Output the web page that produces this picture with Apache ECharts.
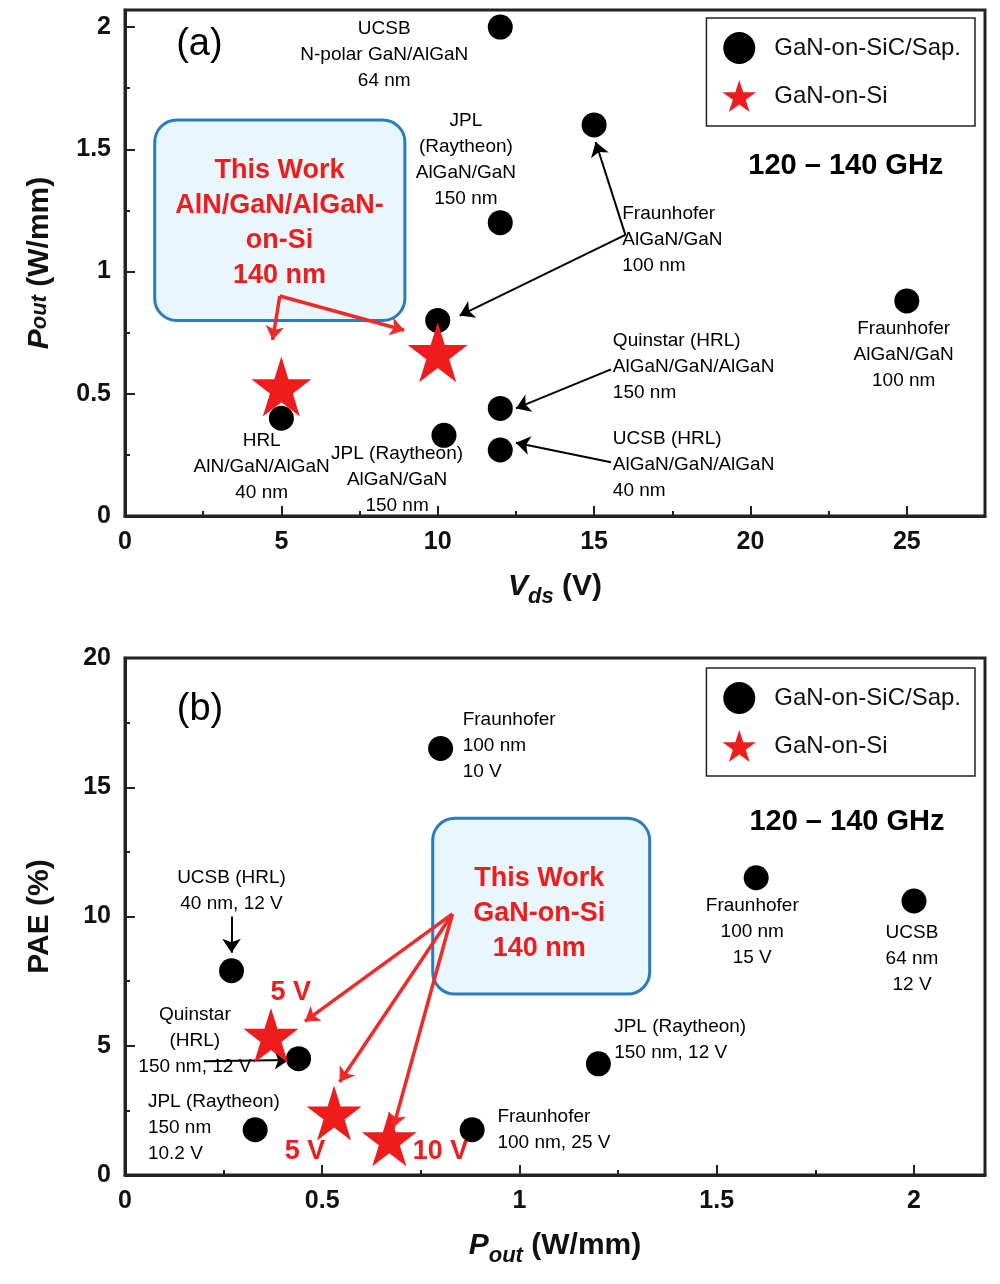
<!DOCTYPE html>
<html>
<head>
<meta charset="utf-8">
<script src="https://cdn.jsdelivr.net/npm/echarts@6/dist/echarts.min.js"></script>
<style>body{margin:0;background:#fff}</style>
</head>
<body>
<div id="main" style="width:1000px;height:1284px"></div>
<script>
var FONT = 'Liberation Sans';
var STAR = 'path://M50,0 L61.8,36.2 L100,36.2 L69.1,58.8 L80.9,95.1 L50,72.6 L19.1,95.1 L30.9,58.8 L0,36.2 L38.2,36.2 Z';

// (a) Pout vs Vds
var aSicSap = [[5,0.4],[10,0.8],[10.2,0.33],[12,0.27],[12,0.44],[12,1.2],[12,2.0],[15,1.6],[25,0.88]];
var aSi = [[5,0.53],[10,0.67]];
// (b) PAE vs Pout
var bSicSap = [[0.27,7.9],[0.44,4.5],[0.33,1.75],[0.8,16.5],[0.88,1.75],[1.2,4.3],[1.6,11.5],[2.0,10.6]];
var bSi = [[0.37,5.4],[0.53,2.4],[0.67,1.4]];

// annotation text: [x, y, text, align, style]
var aNotes = [
  [8.29,1.885,'UCSB\nN-polar GaN/AlGaN\n64 nm','center','n'],
  [10.9,1.456,'JPL\n(Raytheon)\nAlGaN/GaN\n150 nm','center','n'],
  [15.9,1.13,'Fraunhofer\nAlGaN/GaN\n100 nm','left','n'],
  [15.6,0.61,'Quinstar (HRL)\nAlGaN/GaN/AlGaN\n150 nm','left','n'],
  [15.6,0.21,'UCSB (HRL)\nAlGaN/GaN/AlGaN\n40 nm','left','n'],
  [24.9,0.66,'Fraunhofer\nAlGaN/GaN\n100 nm','center','n'],
  [4.37,0.2,'HRL\nAlN/GaN/AlGaN\n40 nm','center','n'],
  [8.7,0.147,'JPL (Raytheon)\nAlGaN/GaN\n150 nm','center','n'],
  [4.94,1.2,'This Work\nAlN/GaN/AlGaN-\non-Si\n140 nm','center','r'],
  [2.38,1.93,'(a)','center','big'],
  [23.05,1.43,'120 – 140 GHz','center','b']
];
var bNotes = [
  [0.856,16.6,'Fraunhofer\n100 nm\n10 V','left','n'],
  [0.19,18.0,'(b)','center','big'],
  [1.83,13.67,'120 – 140 GHz','center','b'],
  [0.27,11.0,'UCSB (HRL)\n40 nm, 12 V','center','n'],
  [1.59,9.4,'Fraunhofer\n100 nm\n15 V','center','n'],
  [1.995,8.35,'UCSB\n64 nm\n12 V','center','n'],
  [1.05,10.1,'This Work\nGaN-on-Si\n140 nm','center','r'],
  [0.177,5.2,'Quinstar\n(HRL)\n150 nm, 12 V','center','n'],
  [1.24,5.24,'JPL (Raytheon)\n150 nm, 12 V','left','n'],
  [0.058,1.83,'JPL (Raytheon)\n150 nm\n10.2 V','left','n'],
  [0.944,1.75,'Fraunhofer\n100 nm, 25 V','left','n'],
  [0.42,7.07,'5 V','center','r'],
  [0.456,0.9,'5 V','center','r'],
  [0.8,0.9,'10 V','center','r']
];
// arrows: [x1,y1,x2,y2,color]
var aArrows = [
  [16,1.15,15.05,1.53,'#000'],[16,1.15,10.7,0.82,'#000'],
  [15.54,0.6,12.5,0.44,'#000'],[15.54,0.22,12.5,0.3,'#000'],
  [4.95,0.9,4.72,0.72,'#ee2a2a'],[4.95,0.9,8.93,0.76,'#ee2a2a']
];
var bArrows = [
  [0.27,10.0,0.27,8.6,'#000'],[0.2,4.4,0.415,4.45,'#000'],
  [0.83,10.1,0.456,5.94,'#ee2a2a'],[0.83,10.1,0.544,3.6,'#ee2a2a'],[0.83,10.1,0.68,1.83,'#ee2a2a']
];

function noteData(notes) {
  return notes.map(function (n) {
    var st = {fontFamily: FONT, fontSize: 19, color: '#000', lineHeight: 26, align: n[3]};
    if (n[4] === 'r') { st.color = '#ee1c1c'; st.fontWeight = 'bold'; st.fontSize = 27; st.lineHeight = 35; }
    if (n[4] === 'b') { st.fontWeight = 'bold'; st.fontSize = 29; }
    if (n[4] === 'big') { st.fontSize = 38; }
    st.show = true; st.position = 'inside'; st.formatter = n[2];
    return {value: [n[0], n[1]], label: st};
  });
}
function arrowData(arr) {
  return arr.map(function (a) {
    return [{coord: [a[0], a[1]], lineStyle: {color: a[4], type: 'solid', width: a[4] === '#000' ? 2 : 3.5}},
            {coord: [a[2], a[3]]}];
  });
}

var axisLbl = {fontFamily: FONT, fontSize: 25, fontWeight: 'bold', color: '#111', margin: 14};
function xAx(idx, max, interval, fmt, name) {
  return {gridIndex: idx, type: 'value', min: 0, max: max, interval: interval,
    axisLine: {lineStyle: {color: '#222', width: 3}},
    axisTick: {inside: true, length: 10, lineStyle: {width: 2}},
    minorTick: {show: true, splitNumber: 2, length: 5, lineStyle: {color: '#222', width: 2}},
    splitLine: {show: false}, axisLabel: Object.assign({formatter: fmt, showMaxLabel: false}, axisLbl),
    name: name, nameLocation: 'middle', nameGap: 50,
    nameTextStyle: {fontFamily: FONT, fontSize: 30, fontWeight: 'bold', color: '#111',
      rich: {i: {fontStyle: 'italic', fontSize: 30, fontWeight: 'bold', fontFamily: FONT},
             s: {fontStyle: 'italic', fontSize: 22, fontWeight: 'bold', fontFamily: FONT, padding: [20, 0, 0, 0]}}}};
}
function yAx(idx, max, interval, fmt, name) {
  var a = xAx(idx, max, interval, fmt, name);
  a.nameGap = 70; a.axisLabel.showMaxLabel = null;
  a.nameTextStyle.rich.s.padding = [0, 0, 0, 0];
  return a;
}
function fmtNum(v) { return String(+v.toFixed(2)); }

var legendBase = {orient: 'vertical', right: 25, borderColor: '#222', borderWidth: 1.5,
  padding: [14, 14, 14, 16], itemGap: 16, itemWidth: 36, itemHeight: 32,
  textStyle: {fontFamily: FONT, fontSize: 24, color: '#111', padding: [0, 0, 0, 12]},
  data: [{name: 'GaN-on-SiC/Sap.', icon: 'circle'}, {name: 'GaN-on-Si', icon: STAR}]};

var option = {
  animation: false,
  grid: [{left: 125, right: 15, top: 10, height: 506, show: true, borderColor: '#222', borderWidth: 3},
         {left: 125, right: 15, top: 658, height: 517, show: true, borderColor: '#222', borderWidth: 3}],
  legend: [Object.assign({top: 18}, legendBase), Object.assign({top: 668}, legendBase)],
  xAxis: [xAx(0, 27.5, 5, fmtNum, '{i|V}{s|ds} (V)'), xAx(1, 2.18, 0.5, fmtNum, '{i|P}{s|out} (W/mm)')],
  yAxis: [yAx(0, 2.07, 0.5, fmtNum, '{i|P}{s|out} (W/mm)'), yAx(1, 20, 5, fmtNum, 'PAE (%)')],
  series: [
    {name: 'GaN-on-SiC/Sap.', type: 'scatter', xAxisIndex: 0, yAxisIndex: 0, data: aSicSap, symbolSize: 25, itemStyle: {color: '#000', opacity: 1}, z: 5},
    {name: 'GaN-on-Si', type: 'scatter', xAxisIndex: 0, yAxisIndex: 0, data: aSi, symbol: STAR, symbolSize: 60, itemStyle: {color: '#ee1c1c', opacity: 1}, z: 6},
    {name: 'GaN-on-SiC/Sap.', type: 'scatter', xAxisIndex: 1, yAxisIndex: 1, data: bSicSap, symbolSize: 25, itemStyle: {color: '#000', opacity: 1}, z: 5},
    {name: 'GaN-on-Si', type: 'scatter', xAxisIndex: 1, yAxisIndex: 1, data: bSi, symbol: STAR, symbolSize: 55, itemStyle: {color: '#ee1c1c', opacity: 1}, z: 6},
    {type: 'scatter', xAxisIndex: 0, yAxisIndex: 0, data: noteData(aNotes), symbolSize: 0, silent: true, z: 4, itemStyle: {opacity: 1},
      markLine: {silent: true, symbol: ['none', 'arrow'], symbolSize: 14, label: {show: false}, lineStyle: {type: 'solid', opacity: 1}, data: arrowData(aArrows)}},
    {type: 'scatter', xAxisIndex: 1, yAxisIndex: 1, data: noteData(bNotes), symbolSize: 0, silent: true, z: 4, itemStyle: {opacity: 1},
      markLine: {silent: true, symbol: ['none', 'arrow'], symbolSize: 14, label: {show: false}, lineStyle: {type: 'solid', opacity: 1}, data: arrowData(bArrows)}}
  ]
};
var chart = echarts.init(document.getElementById('main'));
chart.setOption(option);

// rounded "This Work" boxes in data space
function box(g, x1, y1, x2, y2) {
  var p1 = chart.convertToPixel({gridIndex: g}, [x1, y1]);
  var p2 = chart.convertToPixel({gridIndex: g}, [x2, y2]);
  return {type: 'rect', z: 1, shape: {x: p1[0], y: p1[1], width: p2[0] - p1[0], height: p2[1] - p1[1], r: 22},
    style: {fill: '#e9f6fb', stroke: '#2a7bbf', lineWidth: 3}};
}
chart.setOption({graphic: [box(0, 0.95, 1.62, 8.95, 0.8), box(1, 0.78, 13.8, 1.33, 7.0)]});
</script>
</body>
</html>
